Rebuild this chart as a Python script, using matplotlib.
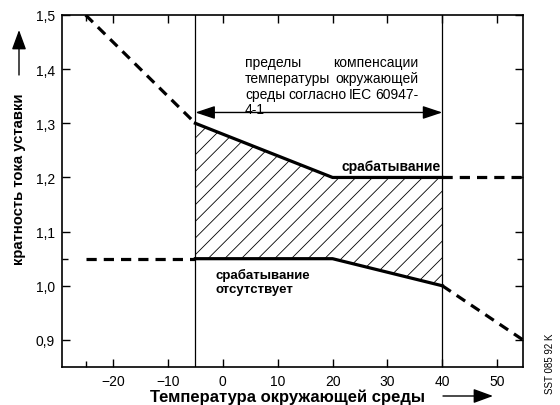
import matplotlib
matplotlib.use('Agg')
import matplotlib.pyplot as plt
from matplotlib.ticker import FixedLocator
from matplotlib.patches import FancyArrowPatch

plt.rcParams['font.family'] = ['Liberation Sans', 'DejaVu Sans']
plt.rcParams['hatch.linewidth'] = 0.6

# ---- data ----
upper_dash_left_x = [-25, -5]
upper_dash_left_y = [1.5, 1.3]
upper_solid_x = [-5, 20, 40]
upper_solid_y = [1.3, 1.2, 1.2]
upper_dash_right_x = [40, 54.7]
upper_dash_right_y = [1.2, 1.2]

lower_dash_left_x = [-25, -5]
lower_dash_left_y = [1.05, 1.05]
lower_solid_x = [-5, 20, 40]
lower_solid_y = [1.05, 1.05, 1.0]
lower_dash_right_x = [40, 54.7]
lower_dash_right_y = [1.0, 0.9]

limit_x = [-5, 40]
arrow_y = 1.32

x_ticks = [-20, -10, 0, 10, 20, 30, 40, 50]
x_tick_labels = ['\u221220', '\u221210', '0', '10', '20', '30', '40', '50']
y_ticks = [0.9, 1.0, 1.1, 1.2, 1.3, 1.4, 1.5]
y_tick_labels = ['0,9', '1,0', '1,1', '1,2', '1,3', '1,4', '1,5']
x_minor = [-25]
y_minor = [1.05]

note_lines = ['пределы компенсации',
              'температуры окружающей',
              'среды согласно IEC 60947-']
note_last = '4-1'
note_y = [1.413, 1.384, 1.355, 1.326]

# ---- figure ----
fig = plt.figure(figsize=(5.6, 4.06), dpi=100)
ax = fig.add_axes([62/560, 1-368/406, (523-62)/560, (368-16)/406])
ax.set_xlim(-29.3, 54.7)
ax.set_ylim(0.85, 1.5)

lw = 2.3
dash = (3.2, 2.2)
ax.plot(upper_dash_left_x, upper_dash_left_y, color='black', lw=lw, dashes=dash)
ax.plot(upper_solid_x, upper_solid_y, color='black', lw=lw)
ax.plot(upper_dash_right_x, upper_dash_right_y, color='black', lw=lw, dashes=dash, clip_on=False)
ax.plot(lower_dash_left_x, lower_dash_left_y, color='black', lw=lw, dashes=dash)
ax.plot(lower_solid_x, lower_solid_y, color='black', lw=lw)
ax.plot(lower_dash_right_x, lower_dash_right_y, color='black', lw=lw, dashes=dash, clip_on=False)

ax.fill_between(upper_solid_x, lower_solid_y, upper_solid_y, facecolor='none',
                edgecolor='black', hatch='//', linewidth=0)

for xv in limit_x:
    ax.axvline(xv, color='black', lw=0.9)

ax.annotate('', xy=(limit_x[0], arrow_y), xytext=(limit_x[1], arrow_y),
            arrowprops=dict(arrowstyle='<|-|>,head_length=0.6,head_width=0.2',
                            mutation_scale=20, lw=1.0, color='black',
                            shrinkA=0, shrinkB=0))

# ticks
ax.set_xticks(x_ticks)
ax.set_xticklabels(x_tick_labels)
ax.set_yticks(y_ticks)
ax.set_yticklabels(y_tick_labels)
ax.xaxis.set_minor_locator(FixedLocator(x_minor))
ax.yaxis.set_minor_locator(FixedLocator(y_minor))
ax.tick_params(which='both', direction='in', top=True, right=True, width=1.0)
ax.tick_params(which='major', length=6, labelsize=10, pad=5)
ax.tick_params(which='minor', length=4)
for s in ax.spines.values():
    s.set_linewidth(1.2)

# justified note text
tf = 10
x_left_px, x_right_px = 245, 418
renderer = fig.canvas.get_renderer()
inv = ax.transData.inverted()
def px_to_x(px):
    return inv.transform((px, 0))[0]
for line, yv in zip(note_lines, note_y):
    words = line.split()
    widths = []
    for w in words:
        t = fig.text(0, 0, w, fontsize=tf)
        widths.append(t.get_window_extent(renderer).width)
        t.remove()
    gap = (x_right_px - x_left_px - sum(widths)) / max(len(words) - 1, 1)
    cur = x_left_px
    for w, wd in zip(words, widths):
        ax.text(px_to_x(cur), yv, w, fontsize=tf, ha='left', va='center')
        cur += wd + gap
ax.text(px_to_x(x_left_px), note_y[3], note_last, fontsize=tf, ha='left', va='center')

ax.text(39.8, 1.222, 'срабатывание', fontsize=10, fontweight='bold', ha='right', va='center')
ax.text(-1.4, 1.008, 'срабатывание\nотсутствует', fontsize=9.5, fontweight='bold',
        ha='left', va='center', linespacing=1.2)

# axis labels with arrows
fig.text(288/560, 1-397/406, 'Температура окружающей среды', fontsize=12, fontweight='bold',
         ha='center', va='center')
fig.add_artist(FancyArrowPatch(
    (443/560, 1-397/406), (493/560, 1-397/406), transform=fig.transFigure,
    arrowstyle='-|>,head_length=0.6,head_width=0.22', mutation_scale=20, lw=1.0,
    color='black', shrinkA=0, shrinkB=0))

fig.text(19/560, 1-179/406, 'кратность тока уставки', fontsize=10.7, fontweight='bold',
         ha='center', va='center', rotation=90)
fig.add_artist(FancyArrowPatch(
    (19/560, 1-76/406), (19/560, 1-31/406), transform=fig.transFigure,
    arrowstyle='-|>,head_length=0.6,head_width=0.22', mutation_scale=20, lw=1.0,
    color='black', shrinkA=0, shrinkB=0))

fig.text(550/560, 1-364/406, 'SST 085 92 K', fontsize=7, ha='center', va='center', rotation=90)

fig.savefig('out.png', dpi=100)
